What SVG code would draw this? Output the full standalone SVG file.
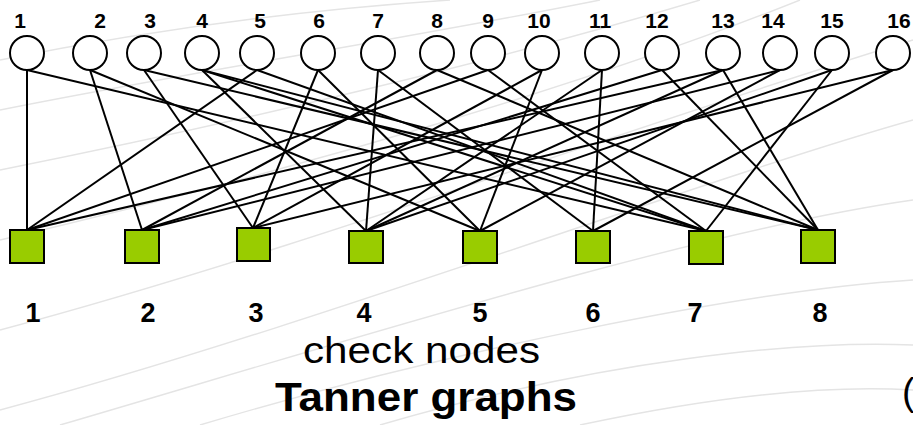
<svg xmlns="http://www.w3.org/2000/svg" width="913" height="425" viewBox="0 0 913 425">
  <style>
    .bg { fill: none; stroke: #e4e4e4; stroke-width: 1.4; }
    .edge { stroke: #000; stroke-width: 2; fill: none; }
    .var { fill: #fff; stroke: #000; stroke-width: 2; }
    .chk { fill: #99cc00; stroke: #000; stroke-width: 2; }
    .lbl { font-family: "Liberation Sans", Arial, sans-serif; font-weight: bold; font-size: 21px; fill: #000; text-anchor: middle; }
    .clbl { font-family: "Liberation Sans", Arial, sans-serif; font-weight: bold; font-size: 27px; fill: #000; text-anchor: middle; }
    .cap { font-family: "Liberation Sans", Arial, sans-serif; fill: #000; }
  </style>

  <rect width="913" height="425" fill="#fff"/>

  <!-- faint background streaks -->
  <g id="background">
    <path class="bg" d="M0 60 C150 30 300 10 450 0"/>
    <path class="bg" d="M0 110 C200 70 400 40 600 0"/>
    <path class="bg" d="M0 170 C250 120 500 60 700 0"/>
    <path class="bg" d="M0 240 C300 170 600 80 800 0"/>
    <path class="bg" d="M0 330 C300 250 650 120 913 40"/>
    <path class="bg" d="M0 410 C300 330 700 180 913 120"/>
    <path class="bg" d="M60 425 C350 340 700 230 913 200"/>
    <path class="bg" d="M200 425 C450 350 750 290 913 280"/>
    <path class="bg" d="M380 425 C600 360 800 340 913 345"/>
    <path class="bg" d="M580 425 C720 395 830 385 913 390"/>
  </g>

  <!-- edges between variable nodes (top) and check nodes (bottom) -->
  <g id="connectors">
    <line class="edge" x1="27" y1="70" x2="27" y2="230"/>
    <line class="edge" x1="27" y1="70" x2="706" y2="231"/>
    <line class="edge" x1="90" y1="70" x2="142" y2="230"/>
    <line class="edge" x1="90" y1="70" x2="480" y2="231"/>
    <line class="edge" x1="144" y1="70" x2="253" y2="228"/>
    <line class="edge" x1="144" y1="70" x2="818" y2="230"/>
    <line class="edge" x1="202" y1="70" x2="366" y2="231"/>
    <line class="edge" x1="202" y1="70" x2="706" y2="231"/>
    <line class="edge" x1="202" y1="70" x2="818" y2="230"/>
    <line class="edge" x1="257" y1="70" x2="27" y2="230"/>
    <line class="edge" x1="257" y1="70" x2="706" y2="231"/>
    <line class="edge" x1="318" y1="70" x2="253" y2="228"/>
    <line class="edge" x1="318" y1="70" x2="480" y2="231"/>
    <line class="edge" x1="378" y1="70" x2="366" y2="231"/>
    <line class="edge" x1="378" y1="70" x2="593" y2="231"/>
    <line class="edge" x1="437" y1="70" x2="142" y2="230"/>
    <line class="edge" x1="437" y1="70" x2="818" y2="230"/>
    <line class="edge" x1="488" y1="70" x2="27" y2="230"/>
    <line class="edge" x1="488" y1="70" x2="706" y2="231"/>
    <line class="edge" x1="542" y1="70" x2="480" y2="231"/>
    <line class="edge" x1="542" y1="70" x2="253" y2="228"/>
    <line class="edge" x1="602" y1="70" x2="593" y2="231"/>
    <line class="edge" x1="602" y1="70" x2="366" y2="231"/>
    <line class="edge" x1="662" y1="70" x2="818" y2="230"/>
    <line class="edge" x1="662" y1="70" x2="142" y2="230"/>
    <line class="edge" x1="723" y1="70" x2="27" y2="230"/>
    <line class="edge" x1="723" y1="70" x2="366" y2="231"/>
    <line class="edge" x1="723" y1="70" x2="818" y2="230"/>
    <line class="edge" x1="780" y1="70" x2="480" y2="231"/>
    <line class="edge" x1="780" y1="70" x2="142" y2="230"/>
    <line class="edge" x1="832" y1="70" x2="706" y2="231"/>
    <line class="edge" x1="832" y1="70" x2="366" y2="231"/>
    <line class="edge" x1="893" y1="70" x2="593" y2="231"/>
    <line class="edge" x1="893" y1="70" x2="253" y2="228"/>
  </g>

  <!-- variable nodes -->
  <g id="v1"><circle class="var" cx="27" cy="53" r="17"/><text class="lbl" x="20" y="28">1</text></g>
  <g id="v2"><circle class="var" cx="90" cy="53" r="17"/><text class="lbl" x="100" y="28">2</text></g>
  <g id="v3"><circle class="var" cx="144" cy="53" r="17"/><text class="lbl" x="150" y="28">3</text></g>
  <g id="v4"><circle class="var" cx="202" cy="53" r="17"/><text class="lbl" x="202" y="28">4</text></g>
  <g id="v5"><circle class="var" cx="257" cy="53" r="17"/><text class="lbl" x="260" y="28">5</text></g>
  <g id="v6"><circle class="var" cx="318" cy="53" r="17"/><text class="lbl" x="319" y="28">6</text></g>
  <g id="v7"><circle class="var" cx="378" cy="53" r="17"/><text class="lbl" x="378" y="28">7</text></g>
  <g id="v8"><circle class="var" cx="437" cy="53" r="17"/><text class="lbl" x="437" y="28">8</text></g>
  <g id="v9"><circle class="var" cx="488" cy="53" r="17"/><text class="lbl" x="488" y="28">9</text></g>
  <g id="v10"><circle class="var" cx="542" cy="53" r="17"/><text class="lbl" x="539" y="28">10</text></g>
  <g id="v11"><circle class="var" cx="602" cy="53" r="17"/><text class="lbl" x="600" y="28">11</text></g>
  <g id="v12"><circle class="var" cx="662" cy="53" r="17"/><text class="lbl" x="657" y="28">12</text></g>
  <g id="v13"><circle class="var" cx="723" cy="53" r="17"/><text class="lbl" x="723" y="28">13</text></g>
  <g id="v14"><circle class="var" cx="780" cy="53" r="17"/><text class="lbl" x="773" y="28">14</text></g>
  <g id="v15"><circle class="var" cx="832" cy="53" r="17"/><text class="lbl" x="832" y="28">15</text></g>
  <g id="v16"><circle class="var" cx="893" cy="53" r="17"/><text class="lbl" x="899" y="28">16</text></g>

  <!-- check nodes -->
  <g id="c1"><rect class="chk" x="10" y="230" width="34" height="33"/><text class="clbl" x="33" y="322">1</text></g>
  <g id="c2"><rect class="chk" x="125" y="230" width="34" height="33"/><text class="clbl" x="148" y="322">2</text></g>
  <g id="c3"><rect class="chk" x="237" y="228" width="33" height="33"/><text class="clbl" x="256" y="322">3</text></g>
  <g id="c4"><rect class="chk" x="349" y="231" width="34" height="32"/><text class="clbl" x="364" y="322">4</text></g>
  <g id="c5"><rect class="chk" x="463" y="231" width="34" height="32"/><text class="clbl" x="480" y="322">5</text></g>
  <g id="c6"><rect class="chk" x="576" y="231" width="34" height="32"/><text class="clbl" x="593" y="322">6</text></g>
  <g id="c7"><rect class="chk" x="689" y="231" width="34" height="33"/><text class="clbl" x="695" y="322">7</text></g>
  <g id="c8"><rect class="chk" x="801" y="230" width="34" height="33"/><text class="clbl" x="820" y="322">8</text></g>

  <g id="captions">
    <text class="cap" x="303" y="363" font-size="37" textLength="237" lengthAdjust="spacingAndGlyphs">check nodes</text>
    <text class="cap" x="275" y="411" font-size="40" font-weight="bold" textLength="302" lengthAdjust="spacingAndGlyphs">Tanner graphs</text>
    <text class="cap" x="902" y="405" font-size="38">(</text>
  </g>
</svg>
